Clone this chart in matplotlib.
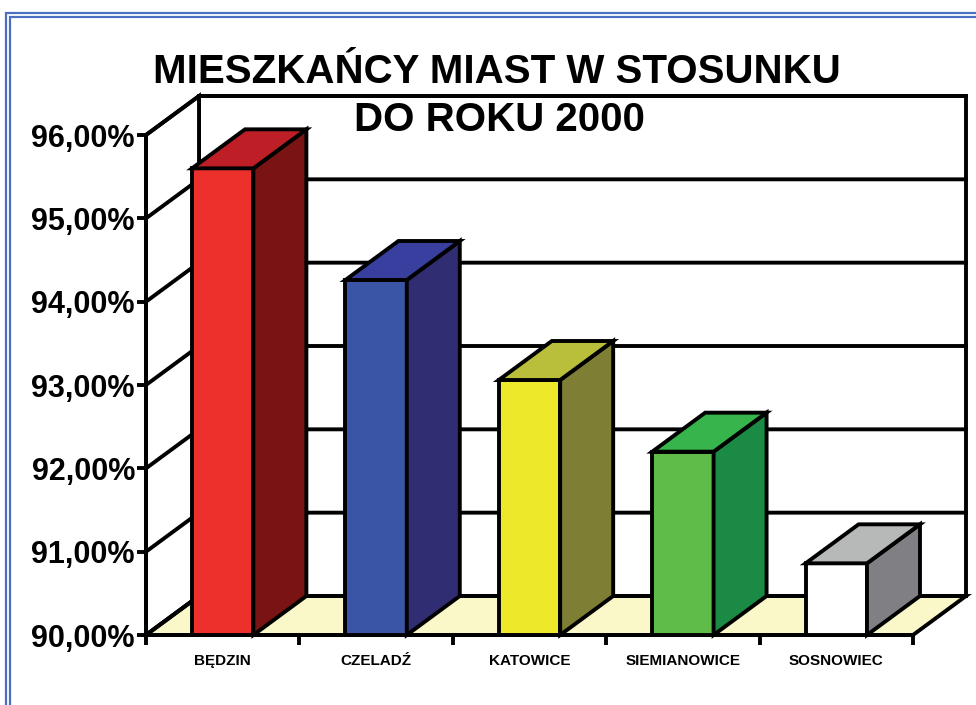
import matplotlib
matplotlib.use("Agg")
import matplotlib.pyplot as plt
from matplotlib.patches import Polygon, Rectangle
from matplotlib import font_manager

categories = ["BĘDZIN", "CZELADŹ", "KATOWICE", "SIEMIANOWICE", "SOSNOWIEC"]
values = [95.60, 94.26, 93.06, 92.20, 90.86]
y_ticks = [90, 91, 92, 93, 94, 95, 96]
y_tick_labels = ["90,00%", "91,00%", "92,00%", "93,00%", "94,00%", "95,00%", "96,00%"]
title_lines = ["MIESZKAŃCY MIAST W STOSUNKU", "DO ROKU 2000"]

front_colors = ["#EE302D", "#3A55A6", "#EDE829", "#5FBC48", "#FFFFFF"]
side_colors = ["#7A1314", "#312D73", "#7E7E34", "#1A8A44", "#808084"]
top_colors = ["#BE1F27", "#383F9E", "#B9BF3A", "#37B44C", "#B7B9B9"]

names = {f.name for f in font_manager.fontManager.ttflist}
narrow = "Liberation Sans Narrow" if "Liberation Sans Narrow" in names else None
title_font = narrow or "Liberation Sans"
title_size = 34 if narrow else 29

W, H = 976, 705
fig = plt.figure(figsize=(W / 100, H / 100), dpi=100)

# front plane in pixels
x0, x1 = 146, 913
y_top, y_bot = 135, 635
ax = fig.add_axes([x0 / W, (H - y_bot) / H, (x1 - x0) / W, (y_bot - y_top) / H])
n = len(categories)
ymin, ymax = y_ticks[0], y_ticks[-1]
ax.set_xlim(0, n)
ax.set_ylim(ymin, ymax)
for s in ax.spines.values():
    s.set_visible(False)
ax.patch.set_visible(False)

# depth offset (pixels -> data)
dx = 53 / (x1 - x0) * n
dy = 39 / (y_bot - y_top) * (ymax - ymin)

lw = 2.8
kw = dict(edgecolor="black", linewidth=lw, joinstyle="miter", clip_on=False)

# walls
ax.add_patch(Polygon([(dx, ymin + dy), (n + dx, ymin + dy), (n + dx, ymax + dy), (dx, ymax + dy)],
                     facecolor="white", **kw, zorder=1))
ax.add_patch(Polygon([(0, ymin), (dx, ymin + dy), (dx, ymax + dy), (0, ymax)],
                     facecolor="white", **kw, zorder=1))
ax.add_patch(Polygon([(0, ymin), (n, ymin), (n + dx, ymin + dy), (dx, ymin + dy)],
                     facecolor="#FAF8C8", **kw, zorder=1))
for v in y_ticks:
    ax.plot([0, dx, n + dx], [v, v + dy, v + dy], color="black", lw=lw,
            solid_joinstyle="miter", clip_on=False, zorder=2)
ax.plot([0, 0], [ymin, ymax], color="black", lw=lw, clip_on=False, zorder=2)
ax.plot([0, n], [ymin, ymin], color="black", lw=lw, clip_on=False, zorder=2)

# bars
w = 0.2
for i, v in enumerate(values):
    c = i + 0.5
    z = 3 + i
    ax.add_patch(Polygon([(c - w, ymin), (c + w, ymin), (c + w, v), (c - w, v)],
                         facecolor=front_colors[i], **kw, zorder=z))
    ax.add_patch(Polygon([(c + w, ymin), (c + w + dx, ymin + dy), (c + w + dx, v + dy), (c + w, v)],
                         facecolor=side_colors[i], **kw, zorder=z))
    ax.add_patch(Polygon([(c - w, v), (c + w, v), (c + w + dx, v + dy), (c - w + dx, v + dy)],
                         facecolor=top_colors[i], **kw, zorder=z))

# ticks
ax.set_yticks(y_ticks)
ax.set_yticklabels(y_tick_labels, fontfamily="Liberation Sans", fontweight="bold", fontsize=22)
ax.tick_params(axis="y", direction="out", length=6.5, width=lw, pad=1.5, colors="black")
ax.set_xticks(range(n + 1))
ax.set_xticklabels([""] * (n + 1))
ax.tick_params(axis="x", which="major", direction="out", length=7, width=lw)
ax.set_xticks([i + 0.5 for i in range(n)], minor=True)
ax.set_xticklabels(categories, minor=True, fontfamily="Liberation Sans", fontweight="bold", fontsize=11)
ax.tick_params(axis="x", which="minor", length=0, pad=14)

# title
fig.text(497 / W, 1 - 72 / H, title_lines[0], ha="center", va="center",
         fontfamily=title_font, fontweight="bold", fontsize=title_size)
fig.text(499 / W, 1 - 120 / H, title_lines[1], ha="center", va="center",
         fontfamily=title_font, fontweight="bold", fontsize=title_size, zorder=20)

# frame
blue = "#4A6EC0"
fig.add_artist(Rectangle((6 / W, -0.1), 1.2, 1 - 13 / H + 0.1, transform=fig.transFigure,
                         fill=False, edgecolor=blue, linewidth=1.6))
fig.add_artist(Rectangle((10 / W, -0.1), 1.2, 1 - 17 / H + 0.1, transform=fig.transFigure,
                         fill=False, edgecolor=blue, linewidth=1.6))

fig.savefig("out.png", dpi=100)
